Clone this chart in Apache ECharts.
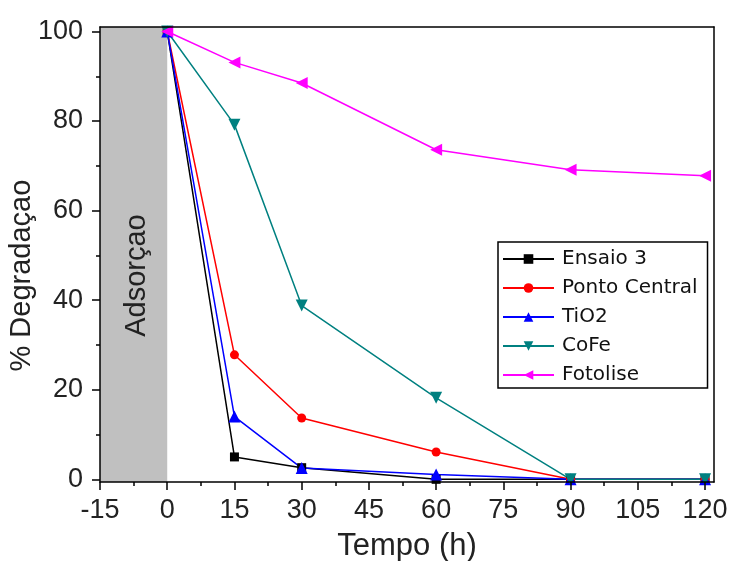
<!DOCTYPE html>
<html>
<head>
<meta charset="utf-8">
<script src="https://cdn.jsdelivr.net/npm/echarts@6/dist/echarts.min.js"></script>
<style>
  html, body { margin: 0; padding: 0; background: #fff; }
  #chart { width: 730px; height: 561px; }
</style>
</head>
<body>
<div id="chart"></div>
<script>
// Sampling times (h) and % degradation for each run
const times = [0, 15, 30, 60, 90, 120];
const ensaio3 = [100, 5, 2.6, 0, 0, 0];
const pontoCentral = [100, 27.8, 13.7, 6.1, 0, 0];
const tio2 = [100, 14, 2.5, 1.1, 0, 0];
const cofe = [100, 79.2, 38.8, 18.2, 0, 0];
const fotolise = [100, 93.1, 88.5, 73.6, 69.1, 67.8];

// Tick positions
const xMajorTicks = [-15, 0, 15, 30, 45, 60, 75, 90, 105, 120];
const xMinorTicks = [-7.5, 7.5, 22.5, 37.5, 52.5, 67.5, 82.5, 97.5, 112.5];
const yMajorTicks = [0, 20, 40, 60, 80, 100];
const yMinorTicks = [10, 30, 50, 70, 90];

// Dark-phase (adsorption) window on the time axis
const adsorptionWindow = [-15, 0];

const FONT = "'Liberation Sans', Arial, sans-serif";
const LEGEND_FONT = "'DejaVu Sans', Verdana, sans-serif";
const AX = { color: '#000', width: 1.5 };
const X_RANGE = { min: -15, max: 122 };
const Y_RANGE = { min: -0.6, max: 101 };

const pairs = (ys) => times.map((t, i) => [t, ys[i]]);

function lineSeries(name, ys, color, symbol, size, rotate) {
  return {
    name: name,
    type: 'line',
    data: pairs(ys),
    xAxisIndex: 0,
    yAxisIndex: 0,
    symbol: symbol,
    symbolSize: size,
    symbolRotate: rotate || 0,
    showAllSymbol: true,
    lineStyle: { color: color, width: 1.5 },
    itemStyle: { color: color },
    emphasis: { disabled: true },
    animation: false
  };
}

const series = [
  lineSeries('Ensaio 3', ensaio3, '#000000', 'rect', 9),
  lineSeries('Ponto Central', pontoCentral, '#ff0000', 'circle', 9),
  lineSeries('TiO2', tio2, '#0000ff', 'triangle', 12),
  lineSeries('CoFe', cofe, '#008080', 'triangle', 12, 180),
  lineSeries('Fotolise', fotolise, '#ff00ff', 'triangle', 12, 90)
];

// Grey band for the adsorption period
series[0].markArea = {
  silent: true,
  itemStyle: { color: '#c0c0c0' },
  data: [[{ xAxis: adsorptionWindow[0] }, { xAxis: adsorptionWindow[1] }]]
};

const frameAxis = (extra) => Object.assign({
  type: 'value', z: 10,
  axisLine: { show: true, onZero: false, lineStyle: AX },
  axisTick: { show: false }, axisLabel: { show: false }, splitLine: { show: false }
}, extra);

const chart = echarts.init(document.getElementById('chart'), null, { renderer: 'canvas' });

chart.setOption({
  animation: false,
  textStyle: { fontFamily: FONT },
  grid: { left: 100, right: 16, top: 27, bottom: 79, outerBoundsMode: 'none', containLabel: false },
  xAxis: [
    frameAxis({
      ...X_RANGE, position: 'bottom',
      axisTick: { show: true, customValues: xMajorTicks, length: 8, lineStyle: AX },
      axisLabel: { show: true, customValues: xMajorTicks, fontSize: 27, color: '#222', margin: 15, fontFamily: FONT },
      name: 'Tempo (h)', nameLocation: 'middle', nameGap: 49,
      nameTextStyle: { fontSize: 31, color: '#222', fontFamily: FONT }
    }),
    frameAxis({
      ...X_RANGE, position: 'bottom',
      axisLine: { show: false, onZero: false },
      axisTick: { show: true, customValues: xMinorTicks, length: 4, lineStyle: AX }
    }),
    frameAxis({ ...X_RANGE, position: 'top' })
  ],
  yAxis: [
    frameAxis({
      ...Y_RANGE, position: 'left',
      axisTick: { show: true, customValues: yMajorTicks, length: 8, lineStyle: AX },
      axisLabel: { show: true, customValues: yMajorTicks, fontSize: 27, color: '#222', margin: 17, fontFamily: FONT }
    }),
    frameAxis({
      ...Y_RANGE, position: 'left',
      axisLine: { show: false, onZero: false },
      axisTick: { show: true, customValues: yMinorTicks, length: 4, lineStyle: AX }
    }),
    frameAxis({ ...Y_RANGE, position: 'right' })
  ],
  legend: {
    orient: 'vertical',
    left: 498, top: 242,
    backgroundColor: '#fff',
    borderColor: '#000', borderWidth: 1.5, borderRadius: 0,
    padding: [7, 10, 3, 4],
    itemWidth: 51, itemHeight: 12, itemGap: 9,
    selectedMode: false,
    textStyle: { fontSize: 20, color: '#111', fontFamily: LEGEND_FONT, padding: [0, 0, 0, 3] },
    data: series.map(s => s.name)
  },
  series: series
});

// Vertical texts: y-axis title and the caption inside the adsorption band
const toPx = (x, y) => chart.convertToPixel({ xAxisIndex: 0, yAxisIndex: 0 }, [x, y]);
const captionAt = toPx((adsorptionWindow[0] + adsorptionWindow[1]) / 2, 45.5);
const yTitleAt = toPx(X_RANGE.min, 45.5);
const verticalText = (text, x, y) => ({
  type: 'text',
  x: x, y: y,
  rotation: Math.PI / 2,
  z: 20,
  style: {
    text: text,
    fontSize: 29, fontFamily: FONT, fill: '#222',
    align: 'center', verticalAlign: 'middle'
  }
});
chart.setOption({
  graphic: [
    verticalText('Adsorçao', captionAt[0] + 3, captionAt[1]),
    verticalText('% Degradaçao', yTitleAt[0] - 78, yTitleAt[1])
  ]
});
</script>
</body>
</html>
